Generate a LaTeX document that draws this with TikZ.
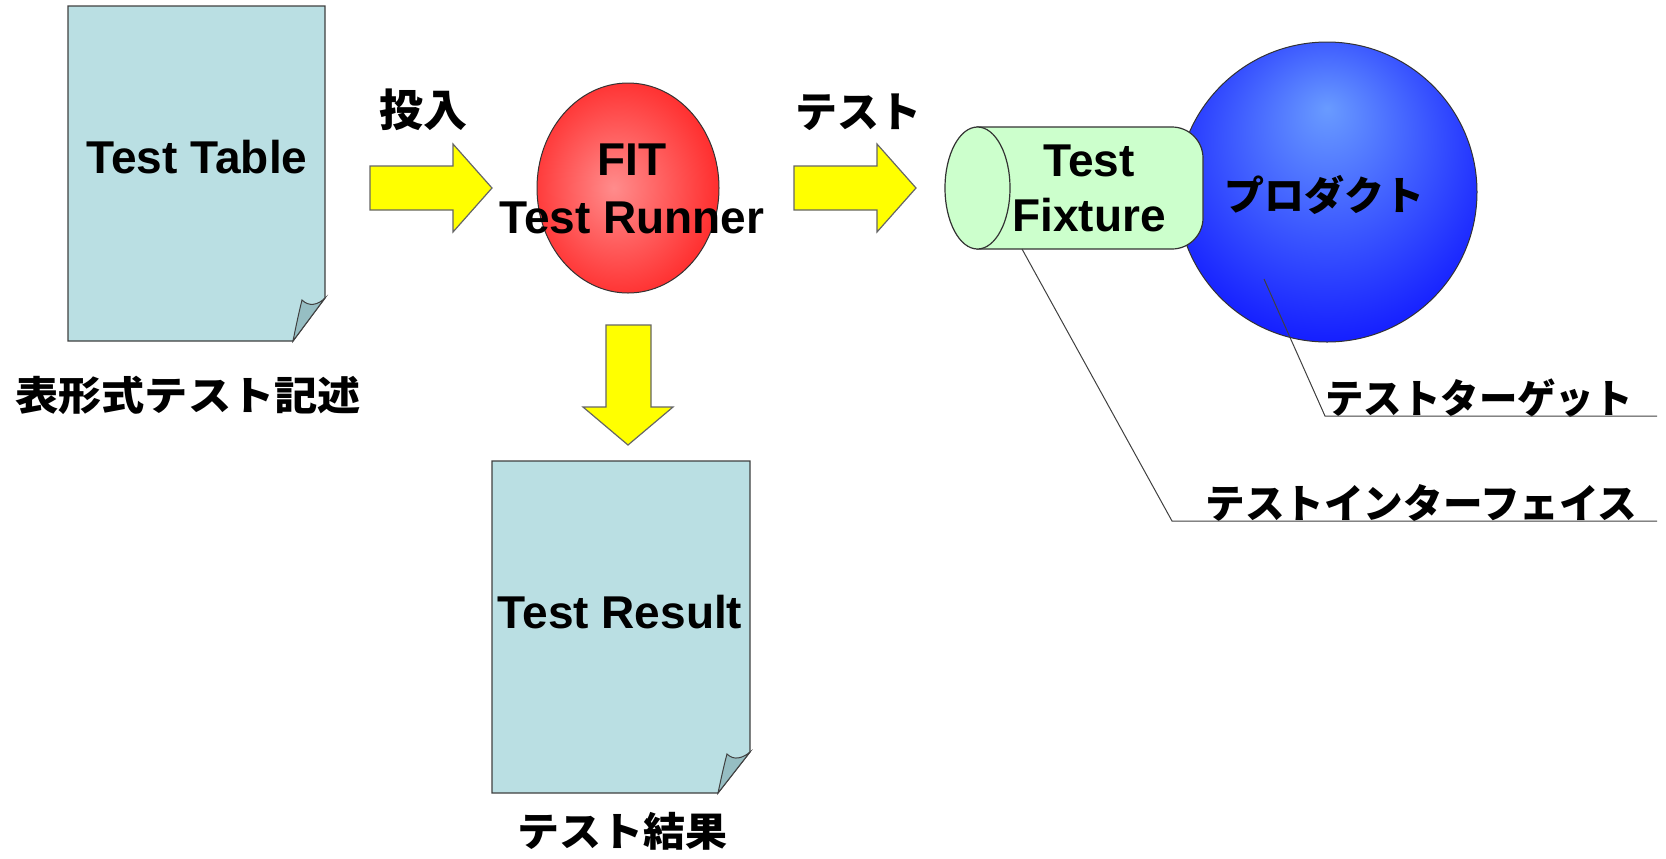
\documentclass[tikz,border=0pt]{standalone}
\usepackage{fontspec}
\setmainfont{Liberation Sans}
\newfontfamily\jp{Noto Sans CJK JP}
\usetikzlibrary{shapes.geometric}
\definecolor{docblue}{RGB}{186,223,227}
\definecolor{flapblue}{RGB}{150,190,195}
\definecolor{pinkc}{RGB}{255,140,140}
\definecolor{redc}{RGB}{255,0,0}
\definecolor{bluelight}{RGB}{105,155,255}
\definecolor{blueedge}{RGB}{0,0,255}
\definecolor{cylgreen}{RGB}{204,255,204}
\definecolor{arrowyellow}{RGB}{255,255,0}
\pgfdeclareradialshading{redball}{\pgfpoint{-4bp}{0bp}}{color(0bp)=(pinkc); color(40bp)=(redc); color(50bp)=(redc)}
\pgfdeclareradialshading{blueball}{\pgfpoint{0bp}{14bp}}{color(0bp)=(bluelight); color(38bp)=(blueedge); color(50bp)=(blueedge)}
\begin{document}
\begin{tikzpicture}[x=0.5pt,y=-0.5pt,
  doc/.style={fill=docblue, draw=black!75, line width=0.6pt},
  flap/.style={fill=flapblue, draw=black!75, line width=0.5pt},
  blockarrow/.style={fill=arrowyellow, draw=black!60, line width=0.6pt, line join=miter},
  cyl/.style={fill=cylgreen, draw=black!80, line width=0.6pt},
  entext/.style={font=\bfseries\fontsize{23}{28}\selectfont, align=center, inner sep=0pt},
  jptext/.style={font=\jp\bfseries\fontsize{20}{24}\selectfont, inner sep=0pt},
  leader/.style={draw=black!75, line width=0.5pt}]
\useasboundingbox (0,0) rectangle (1666,858);

% ---------- Test Table document ----------
\path[doc] (68,6) -- (325,6) -- (325,298) -- (293,341) -- (68,341) -- cycle;
\path[flap] (293,341) .. controls (296,326) and (299,312) .. (302,300)
  .. controls (309,307) and (318,305) .. (325,298) -- cycle;
\node[entext] (table) at (197,157) {Test Table};
\node[jptext] (tablelbl) at (188,395) {\scalebox{1.08}[1]{表形式テスト記述}};

% ---------- arrow: 投入 ----------
\path[blockarrow] (370,166) -- (453,166) -- (453,144) -- (492,188) -- (453,232)
  -- (453,210) -- (370,210) -- cycle;
\node[font=\jp\bfseries\fontsize{22}{24}\selectfont, inner sep=0pt] (inlbl) at (423,110) {投入};

% ---------- FIT Test Runner ----------
\path[shading=redball, draw=black!80, line width=0.5pt] (628,188) ellipse [x radius=91, y radius=105];
\node[entext, font=\bfseries\fontsize{23}{29}\selectfont] (fit) at (632,189) {FIT\\Test Runner};

% ---------- arrow: down ----------
\path[blockarrow] (606,325) -- (651,325) -- (651,407) -- (673,407) -- (628,445)
  -- (583,407) -- (606,407) -- cycle;

% ---------- Test Result document ----------
\path[doc] (492,461) -- (750,461) -- (750,752) -- (718,793) -- (492,793) -- cycle;
\path[flap] (718,793) .. controls (721,779) and (724,765) .. (727,754)
  .. controls (734,761) and (743,758) .. (750,752) -- cycle;
\node[entext] (result) at (620,612) {Test Result};
\node[jptext] (resultlbl) at (622,831) {\scalebox{1.05}[1]{テスト結果}};

% ---------- arrow: テスト ----------
\path[blockarrow] (794,166) -- (877,166) -- (877,144) -- (916,188) -- (877,232)
  -- (877,210) -- (794,210) -- cycle;
\node[font=\jp\bfseries\fontsize{21}{24}\selectfont, inner sep=0pt] (testlbl) at (858,112) {テスト};

% ---------- product sphere ----------
\path[shading=blueball, draw=black!80, line width=0.5pt] (1327,192) circle [x radius=150, y radius=150];
\node[jptext] (product) at (1324,195) {プロダクト};

% ---------- Test Fixture cylinder ----------
\path[cyl] (977,127) -- (1172,127) .. controls (1189,127) and (1203,141) .. (1203,158)
  -- (1203,218) .. controls (1203,235) and (1189,249) .. (1172,249) -- (977,249) -- cycle;
\path[cyl] (977.5,188) ellipse [x radius=32.5, y radius=61];
\node[entext, font=\bfseries\fontsize{23}{27.5}\selectfont] (fixture) at (1089,188) {Test\\Fixture};

% ---------- leader labels ----------
\coordinate (tgtpt) at (1264,279);
\coordinate (tgtbend) at (1325,416);
\coordinate (tgtend) at (1657,416);
\node[jptext, anchor=base west] (tgtlbl) at (1325,413) {\scalebox{0.96}[1]{テストターゲット}};
\draw[leader] (tgtpt) -- (tgtbend) -- (tgtend);

\coordinate (ifpt) at (1022,249);
\coordinate (ifbend) at (1172,521);
\coordinate (ifend) at (1657,521);
\node[jptext, anchor=base west] (iflbl) at (1205,518) {\scalebox{0.99}[1]{テストインターフェイス}};
\draw[leader] (ifpt) -- (ifbend) -- (ifend);
\end{tikzpicture}
\end{document}
